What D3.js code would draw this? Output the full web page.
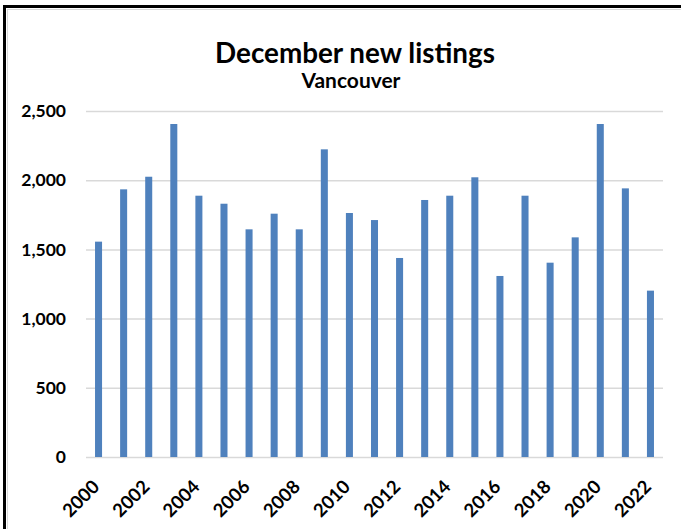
<!DOCTYPE html>
<html><head><meta charset="utf-8">
<script src="https://cdn.jsdelivr.net/npm/d3@7/dist/d3.min.js"></script>
<style>
html,body{margin:0;padding:0;background:#fff;}
svg{display:block;}
text{font-family:Lato,"Open Sans",sans-serif;font-weight:bold;fill:#000;}
</style></head>
<body>
<svg id="chart" width="681" height="529"></svg>
<script>
const years = ["2000","2001","2002","2003","2004","2005","2006","2007","2008","2009","2010","2011","2012","2013","2014","2015","2016","2017","2018","2019","2020","2021","2022"];
const listings = [1556,1934,2025,2406,1888,1830,1645,1758,1645,2223,1763,1712,1438,1857,1888,2021,1308,1888,1404,1587,2406,1941,1202];
const yTicks = [0,500,1000,1500,2000,2500];
const xTickLabels = ["2000","2002","2004","2006","2008","2010","2012","2014","2016","2018","2020","2022"];
const titleText = "December new listings";
const subtitleText = "Vancouver";

const svg = d3.select("#chart");

// frame
svg.append("rect").attr("x",4.5).attr("y",6.5).attr("width",700).attr("height",600)
  .attr("fill","none").attr("stroke","#000").attr("stroke-width",3);
svg.append("rect").attr("x",7.5).attr("y",9.5).attr("width",700).attr("height",600)
  .attr("fill","none").attr("stroke","#d9d9d9").attr("stroke-width",1);

const x = d3.scaleBand().domain(years).range([86,663]).paddingInner(0.72).paddingOuter(0.36);
const y = d3.scaleLinear().domain([0,2500]).range([457,111]);

// gridlines
const yAxis = d3.axisLeft(y).tickValues(yTicks).tickSize(-(663-86)).tickFormat(d3.format(","));
const gy = svg.append("g").attr("transform","translate(86,0)").call(yAxis);
gy.select(".domain").remove();
gy.selectAll(".tick line").attr("stroke","#d9d9d9").attr("stroke-width",1.5);
gy.selectAll(".tick text").attr("x",-20).attr("font-size",17.5).attr("font-family","Lato").attr("font-weight","bold").attr("fill","#000");

// bars
svg.append("g").selectAll("rect").data(years).join("rect")
  .attr("x",d=>x(d)).attr("width",x.bandwidth())
  .attr("y",(d,i)=>y(listings[i])).attr("height",(d,i)=>y(0)-y(listings[i]))
  .attr("fill","#4f81bd");

// x labels
const xAxis = d3.axisBottom(x).tickValues(xTickLabels).tickSize(0);
const gx = svg.append("g").attr("transform","translate(0,457)").call(xAxis);
gx.select(".domain").remove();
gx.selectAll(".tick text")
  .attr("font-size",18.5).attr("font-family","Lato").attr("font-weight","bold").attr("fill","#000")
  .attr("text-anchor","end").attr("y",0).attr("dy",0)
  .attr("transform","translate(2,31) rotate(-45)");

// titles
const t = svg.append("text").attr("x",355).attr("y",62.5).attr("text-anchor","middle").attr("font-size",26).text(titleText);
const tw = t.node().getComputedTextLength();
t.attr("font-size", 26*280/tw);
const s = svg.append("text").attr("x",351).attr("y",88.3).attr("text-anchor","middle").attr("font-size",18).text(subtitleText);
const sw = s.node().getComputedTextLength();
s.attr("font-size", 18*99/sw);
</script>
</body></html>
